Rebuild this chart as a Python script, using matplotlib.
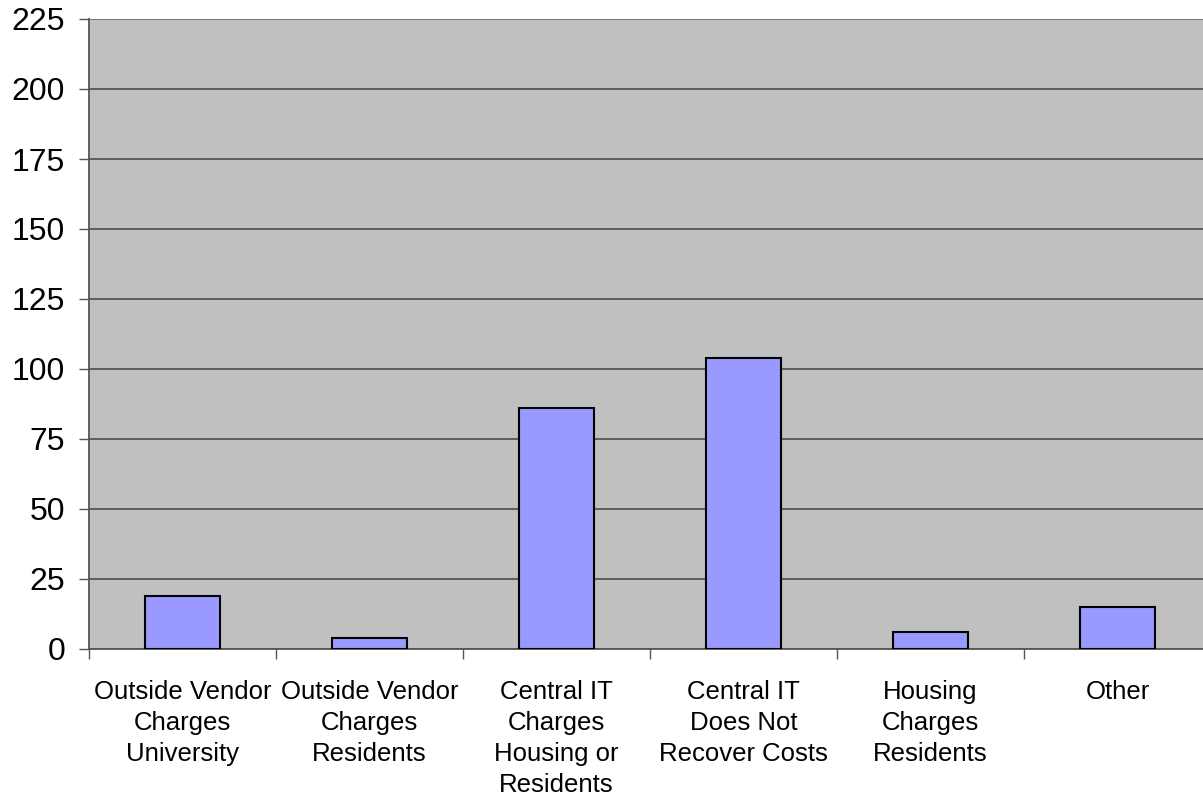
import matplotlib
matplotlib.use("Agg")
import matplotlib.pyplot as plt
import numpy as np

plt.rcParams['font.family'] = ['Liberation Sans', 'DejaVu Sans']

categories = ["Outside Vendor\nCharges\nUniversity",
              "Outside Vendor\nCharges\nResidents",
              "Central IT\nCharges\nHousing or\nResidents",
              "Central IT\nDoes Not\nRecover Costs",
              "Housing\nCharges\nResidents",
              "Other"]
counts = [19, 4, 86, 104, 6, 15]
yticks = [0, 25, 50, 75, 100, 125, 150, 175, 200, 225]

W, H = 1203, 795
fig = plt.figure(figsize=(W / 100, H / 100), dpi=100)
ax = fig.add_axes([89 / W, 1 - 649 / H, 1122 / W, 630 / H])
ax.set_facecolor('#c0c0c0')

x = np.arange(len(categories))
ax.bar(x, counts, width=0.4, color='#9999ff', edgecolor='black', linewidth=1.5, zorder=3)

ax.set_xlim(-0.5, len(categories) - 0.5)
ax.set_ylim(0, 225)
ax.set_yticks(yticks)
ax.set_yticklabels([str(v) for v in yticks], fontsize=23)
ax.yaxis.grid(True, color='#555555', linewidth=1.3, zorder=1)
ax.tick_params(axis='y', length=7.2, width=1, color='#555555', pad=10)

# category boundary ticks, labels centred under bars
ax.set_xticks(np.arange(len(categories) + 1) - 0.5)
ax.set_xticklabels([])
ax.set_xticks(x, minor=True)
ax.set_xticklabels(categories, minor=True, fontsize=18.5, linespacing=1.37)
ax.tick_params(axis='x', which='major', length=7, width=1, color='#555555', direction='out')
ax.tick_params(axis='x', which='minor', length=0, pad=22)

for s in ['top', 'right']:
    ax.spines[s].set_visible(False)
ax.spines['left'].set_color('#555555')
ax.spines['bottom'].set_color('#555555')
ax.spines['left'].set_linewidth(1.3)
ax.spines['bottom'].set_linewidth(1.3)
ax.axhline(225, color='#777777', linewidth=1.3, zorder=2)

fig.savefig("out.png", dpi=100)
